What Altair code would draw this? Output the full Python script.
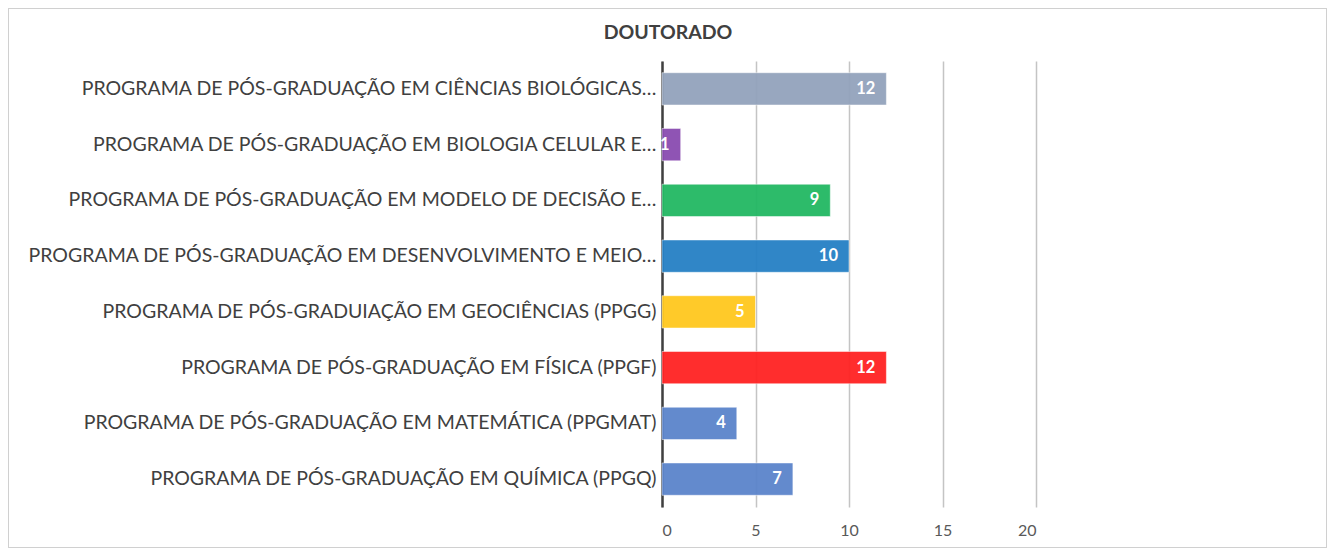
import altair as alt
import pandas as pd

programas = [
    "PROGRAMA DE PÓS-GRADUAÇÃO EM CIÊNCIAS BIOLÓGICAS…",
    "PROGRAMA DE PÓS-GRADUAÇÃO EM BIOLOGIA CELULAR E…",
    "PROGRAMA DE PÓS-GRADUAÇÃO EM MODELO DE DECISÃO E…",
    "PROGRAMA DE PÓS-GRADUAÇÃO EM DESENVOLVIMENTO E MEIO…",
    "PROGRAMA DE PÓS-GRADUIAÇÃO EM GEOCIÊNCIAS (PPGG)",
    "PROGRAMA DE PÓS-GRADUAÇÃO EM FÍSICA (PPGF)",
    "PROGRAMA DE PÓS-GRADUAÇÃO EM MATEMÁTICA (PPGMAT)",
    "PROGRAMA DE PÓS-GRADUAÇÃO EM QUÍMICA (PPGQ)",
]
valores = [12, 1, 9, 10, 5, 12, 4, 7]
cores = ["#93A3BC", "#8A4BB0", "#22B863", "#2580C5", "#FFC81E", "#FF2222", "#5B84CB", "#5B84CB"]
eixo_x = [0, 5, 10, 15, 20]

df = pd.DataFrame({"programa": programas, "valor": valores, "cor": cores})

W, H = 374, 446
PL, PT, PR, PB = 654, 53, 291, 41
FONT = "Lato"

y_enc = alt.Y(
    "programa:N",
    sort=programas,
    title=None,
    scale=alt.Scale(paddingInner=0.42, paddingOuter=0.21),
    axis=alt.Axis(
        labelFont=FONT, labelFontSize=19.5, labelColor="#404040", labelLimit=700,
        labelPadding=6, ticks=False, domain=True, domainColor="#404040",
        domainWidth=2.5, grid=False,
    ),
)
x_enc = alt.X(
    "valor:Q",
    title=None,
    scale=alt.Scale(domain=[0, 20], nice=False),
    axis=alt.Axis(
        values=eixo_x, labelFont=FONT, labelFontSize=16, labelColor="#595959",
        labelPadding=15, ticks=False, domain=False, grid=True,
        gridColor="#c4c4c4", gridWidth=1.5,
    ),
)

bars = alt.Chart(df).mark_bar(opacity=0.95, stroke="#ffffff", strokeOpacity=0.5, strokeWidth=1).encode(
    y=y_enc, x=x_enc, color=alt.Color("cor:N", scale=None)
)
labels = alt.Chart(df).mark_text(
    align="right", baseline="middle", dx=-11, font=FONT, fontSize=16.5,
    fontWeight="bold", color="white"
).encode(y=alt.Y("programa:N", sort=programas), x="valor:Q", text="valor:Q")

# decorative frame around the whole chart area
frame = alt.Chart(df).mark_rect(fill=None, stroke="#d0d0d0", strokeWidth=1).encode(
    x=alt.value(-PL + 0.5), x2=alt.value(W + PR - 0.5),
    y=alt.value(-PT + 0.5), y2=alt.value(H + PB - 0.5),
)

chart = alt.layer(frame, bars, labels).properties(
    width=W, height=H,
    title=alt.TitleParams(
        text="DOUTORADO", font=FONT, fontSize=19.5, fontWeight="bold",
        color="#404040", anchor="middle", dx=-181, offset=-50, frame="group",
        baseline="alphabetic",
    ),
    autosize=alt.AutoSizeParams(type="none"),
    padding={"left": PL, "top": PT, "right": PR, "bottom": PB},
).configure_view(stroke=None)

chart.save("out.html", embed_options={"renderer": "svg", "actions": False})
